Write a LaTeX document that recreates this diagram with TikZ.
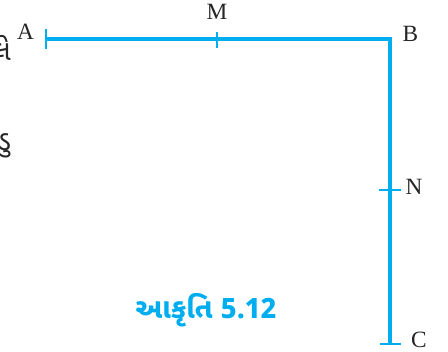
\documentclass[tikz,border=0pt]{standalone}
\usepackage{fontspec}
\setmainfont{Liberation Serif}
\newfontfamily\gujfont[Script=Gujarati]{Noto Sans Gujarati UI}
\definecolor{segblue}{RGB}{0,174,239}
\begin{document}
\begin{tikzpicture}[x=0.75pt,y=-0.75pt,
  seg/.style={draw=segblue,line width=2.4pt},
  tickmark/.style={draw=segblue,line width=2.2pt},
  lbl/.style={font=\fontsize{17.5}{17.5}\selectfont,inner sep=0pt,text=black!85},
  captext/.style={font=\gujfont\bfseries\fontsize{21}{21}\selectfont,text=segblue,inner sep=0pt},
  frag/.style={font=\gujfont\fontsize{21}{21}\selectfont,text=black!85,inner sep=0pt}]
\useasboundingbox (0,0) rectangle (448,351);
% points
\coordinate (A) at (46,39);
\coordinate (B) at (390,39);
\coordinate (C) at (390,344);
\coordinate (M) at (217,39);
\coordinate (N) at (390,190);
% segments
\draw[seg] (A) -- (B) -- (C);
% tick marks
\draw[tickmark] ([yshift=-7.5]A) -- ([yshift=7.5]A);
\draw[tickmark] ([yshift=-7]M) -- ([yshift=5.5]M);
\draw[tickmark] ([xshift=-8]N) -- ([xshift=8]N);
\draw[tickmark] ([xshift=-7.5]C) -- ([xshift=8.5]C);
% labels
\node[lbl] (lA) at (25.5,32) {A};
\node[lbl] (lB) at (410.5,34) {B};
\node[lbl] (lM) at (217,12) {M};
\node[lbl] (lN) at (414,187) {N};
\node[lbl] (lC) at (419,340) {C};
% caption
\node[captext] (caption) at (206,310) {આકૃતિ 5.12};
% cropped page text at the left edge
\node[frag,anchor=east] (f1) at (11,48) {લે};
\node[frag,anchor=east] (f2) at (11,146) {ડુ};
\end{tikzpicture}
\end{document}
